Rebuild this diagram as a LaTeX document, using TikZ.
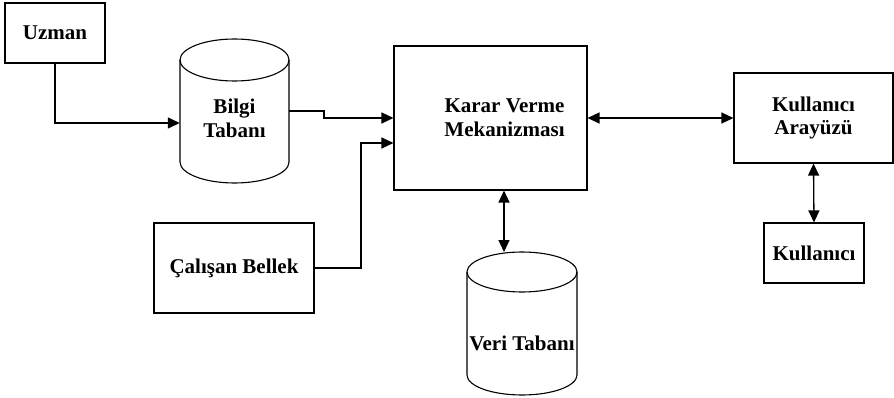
\documentclass[tikz,border=0pt]{standalone}
\usepackage{fontspec}
\setmainfont{Liberation Serif}
\usetikzlibrary{arrows.meta}
\tikzset{
  box/.style={draw=black, line width=1.1pt, inner sep=0pt, font=\bfseries\fontsize{21}{23.5}\selectfont, align=center},
  anchorbox/.style={inner sep=0pt, draw=none},
  lbl/.style={inner sep=0pt, font=\bfseries\fontsize{21}{23.5}\selectfont, align=center},
  tip/.tip={Triangle[length=12pt,width=11pt]},
  link/.style={line width=1.3pt, -tip},
  dlink/.style={line width=1.3pt, tip-tip},
  cyl/.style={line width=1.1pt}
}
\begin{document}
\begin{tikzpicture}[x=1pt, y=-1pt]
\useasboundingbox (0,0) rectangle (894,398);

% plain boxes
\node[box, minimum width=100pt, minimum height=60pt] (uzman) at (55,33) {Uzman};
\node[box, minimum width=193pt, minimum height=144pt] (karar) at (490.5,118) {};
\node[lbl] (kararlbl) at (504.5,117.5) {Karar Verme\\Mekanizması};
\node[box, minimum width=160pt, minimum height=90pt] (calisan) at (234,268) {Çalışan Bellek};
\node[box, minimum width=159pt, minimum height=90pt] (arayuz) at (813.5,118) {Kullanıcı\\Arayüzü};
\node[box, minimum width=100pt, minimum height=60pt] (kullanici) at (814,253) {Kullanıcı};

% Bilgi Tabani cylinder
\draw[cyl] (180,60) -- (180,162) arc[start angle=180, end angle=0, x radius=54.5, y radius=21] -- (289,60);
\draw[cyl] (234.5,60) ellipse[x radius=54.5, y radius=21];
\node[anchorbox, minimum width=109pt, minimum height=144pt] (bilgi) at (234.5,111) {};
\node[lbl] (bilgilbl) at (234.5,118.5) {Bilgi\\Tabanı};

% Veri Tabani cylinder
\draw[cyl] (467,272) -- (467,375) arc[start angle=180, end angle=0, x radius=55, y radius=20] -- (577,272);
\draw[cyl] (522,272) ellipse[x radius=55, y radius=20];
\node[anchorbox, minimum width=110pt, minimum height=143pt] (veri) at (522,323.5) {};
\node[lbl] (verilbl) at (522,343) {Veri Tabanı};

% connectors
\draw[link] (uzman.south) -- (55,123) -- (bilgi.west |- 0,123);
\draw[link] (bilgi.east |- 0,111) -- (324,111) -- (324,118) -- (karar.west |- 0,118);
\draw[link] (calisan.east) -- (361,268) -- (361,143) -- (karar.west |- 0,143);
\draw[dlink] (karar.south -| 504,0) -- (504,252);
\draw[dlink] (karar.east) -- (arayuz.west);
\draw[dlink] (arayuz.south) -- (kullanici.north);
\end{tikzpicture}
\end{document}
